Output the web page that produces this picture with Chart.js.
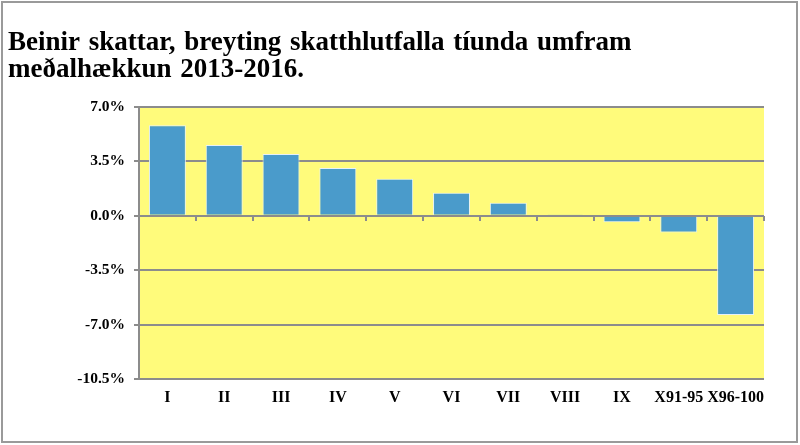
<!DOCTYPE html>
<html>
<head>
<meta charset="utf-8">
<script src="https://cdn.jsdelivr.net/npm/chart.js@4.4.1/dist/chart.umd.min.js"></script>
<style>
  html, body { margin: 0; padding: 0; background: #fff; }
  #wrap { width: 800px; height: 445px; position: relative; }
</style>
</head>
<body>
<div id="wrap"><canvas id="skattar"></canvas></div>
<script>
// Tíundir og breyting skatthlutfalla (% umfram meðalhækkun)
const tiundir = ['I', 'II', 'III', 'IV', 'V', 'VI', 'VII', 'VIII', 'IX', 'X91-95', 'X96-100'];
const breyting = [5.82, 4.55, 3.97, 3.07, 2.38, 1.48, 0.84, 0.05, -0.41, -1.07, -6.39];
const titill = ['Beinir skattar, breyting skatthlutfalla tíunda umfram', 'meðalhækkun 2013-2016.'];

const serif = "'Liberation Serif', 'Times New Roman', serif";
const grar = '#8c8c8c';

// hvítur bakgrunnur, rammi og gult teiknisvæði
const bakgrunnur = {
  id: 'bakgrunnur',
  beforeDraw(chart) {
    const { ctx, chartArea: a, width, height } = chart;
    ctx.save();
    ctx.fillStyle = '#fff';
    ctx.fillRect(0, 0, width, height);
    ctx.strokeStyle = '#9a9a9a';
    ctx.lineWidth = 2;
    ctx.strokeRect(2, 2, width - 5, height - 5);
    ctx.fillStyle = '#FFFB7B';
    ctx.fillRect(a.left, a.top, a.right - a.left, a.bottom - a.top);
    ctx.restore();
    // aðeins breiðara bil milli orða í titli
    ctx.wordSpacing = '2px';
  }
};

new Chart(document.getElementById('skattar'), {
  type: 'bar',
  data: {
    labels: tiundir,
    datasets: [{
      data: breyting,
      backgroundColor: '#4A9BCB',
      borderColor: '#E6F1F8',
      borderWidth: 1,
      barPercentage: 0.65,
      categoryPercentage: 1
    }]
  },
  options: {
    responsive: true,
    maintainAspectRatio: false,
    animation: false,
    devicePixelRatio: 1,
    layout: { padding: { left: 8, right: 36, top: 0, bottom: 8 } },
    plugins: {
      legend: { display: false },
      tooltip: { enabled: false },
      title: {
        display: true,
        text: titill,
        align: 'start',
        color: '#000',
        font: { family: serif, size: 27, weight: 'bold', lineHeight: 1 },
        padding: { top: 30, bottom: 23 }
      }
    },
    scales: {
      x: {
        offset: true,
        grid: { display: false, drawTicks: false },
        border: { display: false },
        ticks: { color: '#000', padding: 9, font: { family: serif, size: 16, weight: 'bold' }, maxRotation: 0, autoSkip: false },
        afterFit: s => { s.height = 58; }
      },
      x2: {
        type: 'category',
        position: { y: 0 },
        offset: true,
        grid: { offset: true, drawOnChartArea: false, tickLength: 5, color: grar, lineWidth: 2 },
        border: { display: false },
        ticks: { display: false }
      },
      y: {
        min: -10.5,
        max: 7,
        ticks: {
          stepSize: 3.5,
          color: '#000',
          padding: 9,
          font: { family: serif, size: 15.5, weight: 'bold' },
          callback: v => v.toFixed(1) + '%'
        },
        grid: { color: grar, lineWidth: 2, tickLength: 5 },
        border: { color: grar, width: 2 },
        afterFit: s => { s.width = 131; }
      }
    }
  },
  plugins: [bakgrunnur]
});
</script>
</body>
</html>
